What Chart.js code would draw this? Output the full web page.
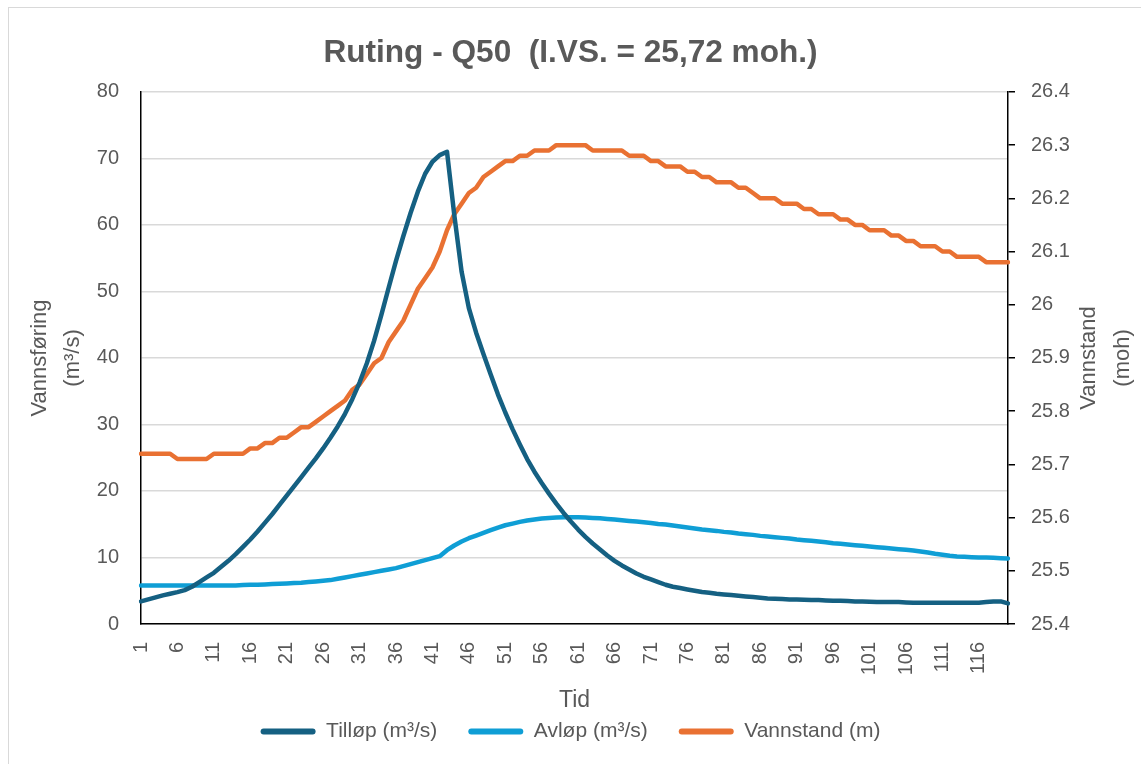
<!DOCTYPE html>
<html><head><meta charset="utf-8">
<script src="https://cdn.jsdelivr.net/npm/chart.js@4.4.1/dist/chart.umd.min.js"></script>
<style>
html,body{margin:0;padding:0;background:#fff;overflow:hidden;}
#wrap{position:relative;width:1141px;height:764px;overflow:hidden;}
#frame{position:absolute;left:8px;top:7px;width:1300px;height:900px;border:1px solid #d9d9d9;box-sizing:border-box;}
canvas{position:absolute;left:0;top:0;}
</style></head><body>
<div id="wrap"><div id="frame"></div><canvas id="c" width="1141" height="764"></canvas></div>
<script>
const timeLabels = ["1","2","3","4","5","6","7","8","9","10","11","12","13","14","15","16","17","18","19","20",
"21","22","23","24","25","26","27","28","29","30","31","32","33","34","35","36","37","38","39","40",
"41","42","43","44","45","46","47","48","49","50","51","52","53","54","55","56","57","58","59","60",
"61","62","63","64","65","66","67","68","69","70","71","72","73","74","75","76","77","78","79","80",
"81","82","83","84","85","86","87","88","89","90","91","92","93","94","95","96","97","98","99","100",
"101","102","103","104","105","106","107","108","109","110","111","112","113","114","115","116","117","118","119","120"];

const tillop = [3.4,3.7,4.0,4.3,4.55,4.8,5.1,5.6,6.3,7.0,
7.7,8.6,9.5,10.5,11.6,12.7,13.9,15.2,16.5,17.9,
19.3,20.7,22.1,23.5,24.9,26.4,28.0,29.7,31.6,33.8,
36.3,39.2,42.6,46.5,50.6,54.6,58.3,61.8,65.0,67.7,
69.5,70.5,71.0,61.5,53.0,47.5,43.8,40.6,37.5,34.5,
31.8,29.3,27.0,24.8,22.9,21.2,19.6,18.1,16.7,15.4,
14.2,13.1,12.1,11.2,10.3,9.5,8.8,8.2,7.6,7.1,
6.7,6.3,5.9,5.6,5.4,5.2,5.0,4.8,4.7,4.55,
4.45,4.35,4.25,4.15,4.05,3.95,3.85,3.8,3.75,3.7,
3.7,3.65,3.6,3.6,3.55,3.5,3.5,3.45,3.4,3.4,
3.35,3.3,3.3,3.3,3.3,3.25,3.2,3.2,3.2,3.2,
3.2,3.2,3.2,3.2,3.2,3.2,3.3,3.4,3.4,3.1];

const avlop = [5.8,5.8,5.8,5.8,5.8,5.8,5.8,5.8,5.8,5.8,
5.8,5.8,5.8,5.8,5.85,5.9,5.9,5.95,6.0,6.05,
6.1,6.15,6.2,6.3,6.4,6.5,6.6,6.8,7.0,7.2,
7.4,7.6,7.8,8.0,8.2,8.4,8.7,9.0,9.3,9.6,
9.9,10.2,11.1,11.8,12.4,12.9,13.3,13.7,14.1,14.5,
14.85,15.1,15.35,15.55,15.7,15.85,15.95,16.0,16.05,16.05,
16.05,16.0,15.95,15.9,15.8,15.7,15.6,15.5,15.4,15.3,
15.2,15.05,14.95,14.8,14.65,14.5,14.35,14.2,14.1,14.0,
13.85,13.75,13.6,13.5,13.4,13.25,13.15,13.05,12.95,12.85,
12.7,12.6,12.5,12.4,12.3,12.15,12.05,11.95,11.85,11.75,
11.65,11.55,11.45,11.35,11.25,11.15,11.05,10.9,10.75,10.55,
10.4,10.25,10.15,10.1,10.05,10.0,10.0,9.95,9.9,9.85];

const vannstand = [25.72,25.72,25.72,25.72,25.72,25.71,25.71,25.71,25.71,25.71,
25.72,25.72,25.72,25.72,25.72,25.73,25.73,25.74,25.74,25.75,
25.75,25.76,25.77,25.77,25.78,25.79,25.80,25.81,25.82,25.84,
25.85,25.87,25.89,25.90,25.93,25.95,25.97,26.00,26.03,26.05,
26.07,26.10,26.14,26.17,26.19,26.21,26.22,26.24,26.25,26.26,
26.27,26.27,26.28,26.28,26.29,26.29,26.29,26.30,26.30,26.30,
26.30,26.30,26.29,26.29,26.29,26.29,26.29,26.28,26.28,26.28,
26.27,26.27,26.26,26.26,26.26,26.25,26.25,26.24,26.24,26.23,
26.23,26.23,26.22,26.22,26.21,26.20,26.20,26.20,26.19,26.19,
26.19,26.18,26.18,26.17,26.17,26.17,26.16,26.16,26.15,26.15,
26.14,26.14,26.14,26.13,26.13,26.12,26.12,26.11,26.11,26.11,
26.10,26.10,26.09,26.09,26.09,26.09,26.08,26.08,26.08,26.08];

const seriesNames = ["Tilløp (m³/s)", "Avløp (m³/s)", "Vannstand (m)"];
const seriesColors = ["#156082", "#0F9ED5", "#E97132"];
const chartTitle = "Ruting - Q50  (I.VS. = 25,72 moh.)";
const leftTitle = ["Vannsføring", "(m³/s)"];
const rightTitle = ["Vannstand", "(moh)"];
const xTitle = "Tid";

const TXT = "#595959";
const NARROW = "'Liberation Sans Narrow', 'Arial Narrow', 'Liberation Sans', sans-serif";
const SANS = "'Liberation Sans', Arial, sans-serif";

const rightTitlePlugin = {
  id: 'rightTitle',
  afterDraw(chart) {
    const ctx = chart.ctx;
    const a = chart.chartArea;
    const mid = (a.top + a.bottom) / 2;
    ctx.save();
    ctx.fillStyle = TXT;
    ctx.font = "22px " + SANS;
    ctx.textAlign = 'center';
    ctx.textBaseline = 'middle';
    const xs = [1089, 1123];
    rightTitle.forEach((t, i) => {
      ctx.save();
      ctx.translate(xs[i], mid);
      ctx.rotate(-Math.PI / 2);
      ctx.fillText(t, 0, 0);
      ctx.restore();
    });
    ctx.restore();
  }
};

function mkDs(i, data, axis) {
  return {
    label: seriesNames[i], data: data, yAxisID: axis,
    borderColor: seriesColors[i], backgroundColor: seriesColors[i],
    borderWidth: 4.5, pointRadius: 0, tension: 0,
    borderCapStyle: 'round', borderJoinStyle: 'round'
  };
}

new Chart(document.getElementById('c'), {
  type: 'line',
  data: {
    labels: timeLabels,
    datasets: [mkDs(0, tillop, 'y'), mkDs(1, avlop, 'y'), mkDs(2, vannstand, 'y2')]
  },
  options: {
    responsive: false, animation: false,
    layout: { padding: { left: 0, right: 0, top: 0, bottom: 12 } },
    plugins: {
      title: {
        display: true, text: chartTitle, color: TXT,
        font: { family: NARROW, size: 31.6, weight: 'bold', lineHeight: 1.2 },
        padding: { top: 34, bottom: 20 }
      },
      legend: {
        position: 'bottom',
        labels: {
          color: TXT, font: { family: NARROW, size: 21 },
          boxWidth: 55, boxHeight: 6, useBorderRadius: true, borderRadius: 3, padding: 10,
          generateLabels(chart) {
            const items = Chart.defaults.plugins.legend.labels.generateLabels(chart);
            items.forEach((it, i) => { it.lineWidth = 0; if (i < items.length - 1) it.text = it.text + '\u2003'; });
            return items;
          }
        }
      },
      tooltip: { enabled: false }
    },
    scales: {
      x: {
        type: 'category', offset: false,
        grid: { display: false, drawTicks: false },
        border: { color: '#000', width: 1.5 },
        ticks: {
          autoSkip: false, maxRotation: 90, minRotation: 90, padding: 18,
          color: TXT, font: { family: SANS, size: 20 },
          callback(v, i) { return i % 5 === 0 ? timeLabels[i] : null; }
        },
        title: { display: true, text: xTitle, color: TXT, font: { family: NARROW, size: 23 }, padding: { top: 0, bottom: -3 } },
        afterFit(s) { s.height = 87; }
      },
      y: {
        position: 'left', min: 0, max: 80,
        grid: { color: '#d9d9d9', lineWidth: 1.5, drawTicks: false },
        border: { color: '#000', width: 1.5 },
        ticks: { stepSize: 10, padding: 22, color: TXT, font: { family: SANS, size: 20 } },
        title: { display: true, text: leftTitle, color: TXT, font: { family: SANS, size: 22, lineHeight: 1.5 }, padding: { top: 23.5, bottom: 0 } },
        afterFit(s) { s.width = 141; }
      },
      y2: {
        position: 'right', min: 25.4, max: 26.4,
        grid: { drawOnChartArea: false, drawTicks: true, tickLength: 7, color: '#000', lineWidth: 1.5 },
        border: { color: '#000', width: 1.5 },
        ticks: { stepSize: 0.1, padding: 16, color: TXT, font: { family: SANS, size: 20 },
          callback(v) { return String(Number(v.toFixed(1))); } },
        afterFit(s) { s.width = 133; }
      }
    }
  },
  plugins: [rightTitlePlugin]
});
</script>
</body></html>
